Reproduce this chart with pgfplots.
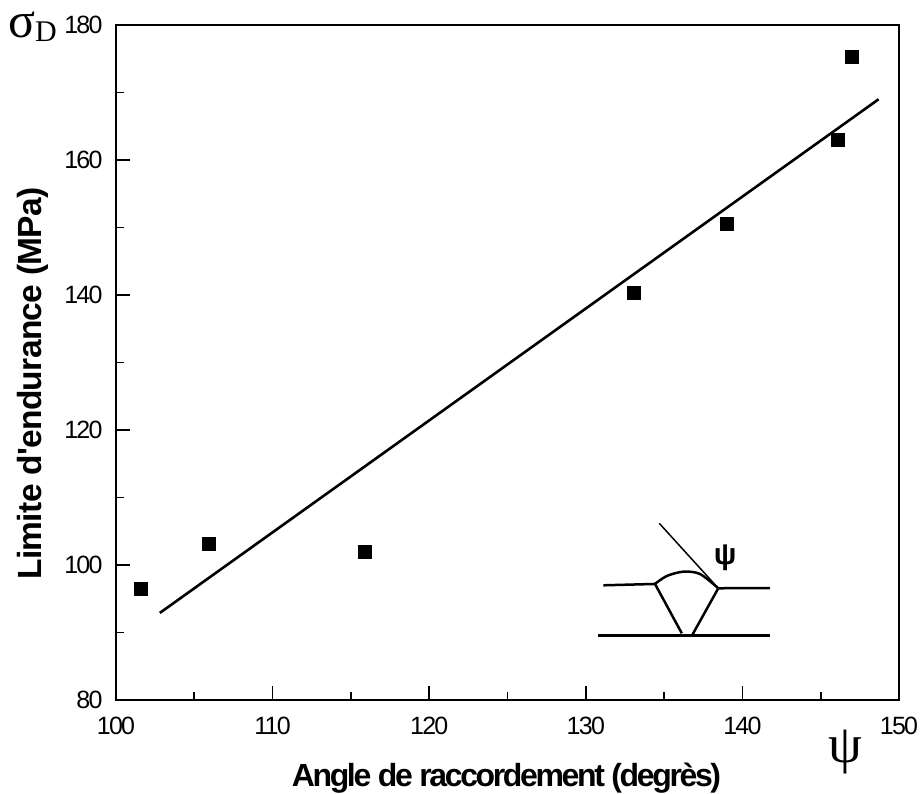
\documentclass[border=0pt]{standalone}
\usepackage{fontspec}
\setmainfont{Liberation Sans}
\newfontfamily\serifgreek{Liberation Serif}
\newfontfamily\ticksfont[LetterSpace=-7]{Liberation Sans}
\newfontfamily\xlabelfont[LetterSpace=-7.4]{Liberation Sans}
\newfontfamily\ylabelfont[LetterSpace=-2]{Liberation Sans}
\usepackage{pgfplots}
\pgfplotsset{compat=1.18}

% measured points
\pgfplotstableread{
x y
101.6 96.5
105.9 103.1
115.9 101.9
133.05 140.3
139.0 150.6
146.1 163.0
147.0 175.3
}\measured

\begin{document}
\begin{tikzpicture}
\path[use as bounding box] (-116pt,-94pt) rectangle (806pt,700pt);
\begin{axis}[
 at={(0pt,0pt)}, anchor=south west,
 scale only axis,
 width=783pt, height=675pt,
 xmin=100, xmax=150,
 ymin=80, ymax=180,
 xtick={100,110,...,150},
 ytick={80,100,...,180},
 minor x tick num=1,
 minor y tick num=1,
 tick align=inside,
 xtick pos=bottom, ytick pos=left,
 major tick length=14pt,
 minor tick length=8pt,
 every tick/.style={black, line width=1.8pt},
 axis line style={line width=2.8pt},
 tick label style={font=\ticksfont\fontsize{25}{27}\selectfont},
 xticklabel style={yshift=-14pt},
 yticklabel style={xshift=-10pt},
 /pgf/number format/assume math mode=true,
 clip=false,
]
\addplot[only marks, mark=square*, mark size=6.5pt, black] table {\measured};
\addplot[black, line width=2.6pt] coordinates {(102.8,92.9) (148.7,169.0)};

% weld sketch
\addplot[black, line width=2.5pt] coordinates {(131.12,96.99) (134.42,97.19)};
\addplot[black, line width=2.5pt, smooth] coordinates {(134.42,97.19) (135.17,98.37) (136.23,99.01) (137.29,98.67) (138.46,96.55)};
\addplot[black, line width=2.5pt] coordinates {(138.46,96.55) (141.76,96.59)};
\addplot[black, line width=2.5pt] coordinates {(134.42,97.19) (136.13,89.88)};
\addplot[black, line width=2.5pt] coordinates {(138.46,96.55) (136.80,89.63)};
\addplot[black, line width=2.5pt] coordinates {(130.80,89.59) (141.76,89.59)};
\addplot[black, line width=1.5pt] coordinates {(134.69,106.18) (138.46,96.55)};
\node[font=\fontsize{30}{32}\selectfont\bfseries] at (axis cs:138.9,101.0) {ψ};
\end{axis}
\node[font=\xlabelfont\fontsize{32}{34}\selectfont\bfseries] at (390.5pt,-78pt) {Angle de raccordement (degrès)};
\node[rotate=90, font=\ylabelfont\fontsize{33.5}{35}\selectfont\bfseries] at (-83pt,316.5pt) {Limite d'endurance (MPa)};
\node[inner sep=0pt, font=\fontsize{50}{52}\selectfont\serifgreek] at (-94.5pt,675pt) {σ};
\node[inner sep=0pt, font=\fontsize{30}{32}\selectfont\serifgreek] at (-70pt,668pt) {D};
\node[font=\fontsize{54}{56}\selectfont\serifgreek] at (729pt,-52pt) {ψ};
\end{tikzpicture}
\end{document}
